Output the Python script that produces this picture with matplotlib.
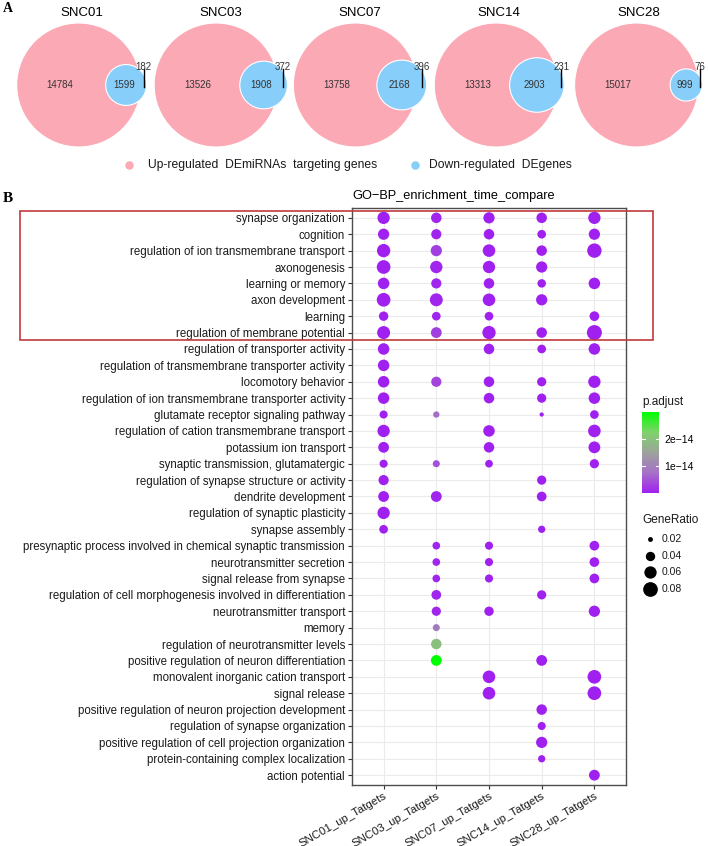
import numpy as np
import matplotlib
matplotlib.use("Agg")
import matplotlib.pyplot as plt
import matplotlib.cm as cm
from matplotlib.colors import LinearSegmentedColormap, Normalize
from matplotlib.patches import Circle, Rectangle

plt.rcParams["font.family"] = ["Liberation Sans", "DejaVu Sans"]

# ---- panel A: venn counts ----
venn_names = ["SNC01", "SNC03", "SNC07", "SNC14", "SNC28"]
up_only = [14784, 13526, 13758, 13313, 15017]
both = [1599, 1908, 2168, 2903, 999]
down_only = [182, 372, 396, 231, 76]

# ---- panel B: GO-BP dot plot ----
groups = ["SNC01_up_Tatgets", "SNC03_up_Tatgets", "SNC07_up_Tatgets",
          "SNC14_up_Tatgets", "SNC28_up_Tatgets"]

terms = [
    "synapse organization",
    "cognition",
    "regulation of ion transmembrane transport",
    "axonogenesis",
    "learning or memory",
    "axon development",
    "learning",
    "regulation of membrane potential",
    "regulation of transporter activity",
    "regulation of transmembrane transporter activity",
    "locomotory behavior",
    "regulation of ion transmembrane transporter activity",
    "glutamate receptor signaling pathway",
    "regulation of cation transmembrane transport",
    "potassium ion transport",
    "synaptic transmission, glutamatergic",
    "regulation of synapse structure or activity",
    "dendrite development",
    "regulation of synaptic plasticity",
    "synapse assembly",
    "presynaptic process involved in chemical synaptic transmission",
    "neurotransmitter secretion",
    "signal release from synapse",
    "regulation of cell morphogenesis involved in differentiation",
    "neurotransmitter transport",
    "memory",
    "regulation of neurotransmitter levels",
    "positive regulation of neuron differentiation",
    "monovalent inorganic cation transport",
    "signal release",
    "positive regulation of neuron projection development",
    "regulation of synapse organization",
    "positive regulation of cell projection organization",
    "protein-containing complex localization",
    "action potential",
]

# GeneRatio per term, columns follow `groups` (None = term not enriched)
gene_ratio = [
    [0.060, 0.047, 0.052, 0.047, 0.060],
    [0.052, 0.045, 0.047, 0.036, 0.052],
    [0.068, 0.052, 0.062, 0.047, 0.077],
    [0.071, 0.060, 0.060, 0.052, None],
    [0.054, 0.045, 0.047, 0.035, 0.054],
    [0.071, 0.065, 0.062, 0.052, None],
    [0.040, 0.036, 0.036, None, 0.042],
    [0.065, 0.049, 0.068, 0.047, 0.083],
    [0.054, None, 0.047, 0.036, 0.054],
    [0.054, None, None, None, None],
    [0.054, 0.045, 0.047, 0.039, 0.060],
    [0.054, None, 0.047, 0.039, 0.054],
    [0.033, 0.025, None, 0.018, 0.036],
    [0.060, None, 0.054, None, 0.062],
    [0.049, None, 0.047, None, 0.056],
    [0.033, 0.028, 0.031, None, 0.039],
    [0.045, None, None, 0.039, None],
    [0.049, 0.049, None, 0.042, None],
    [0.060, None, None, None, None],
    [0.036, None, None, 0.029, None],
    [None, 0.031, 0.033, None, 0.042],
    [None, 0.031, 0.033, None, 0.042],
    [None, 0.031, 0.033, None, 0.042],
    [None, 0.042, None, 0.039, None],
    [None, 0.039, 0.040, None, 0.052],
    [None, 0.028, None, None, None],
    [None, 0.047, None, None, None],
    [None, 0.049, None, 0.049, None],
    [None, None, 0.062, None, 0.071],
    [None, None, 0.062, None, 0.071],
    [None, None, None, 0.047, None],
    [None, None, None, 0.033, None],
    [None, None, None, 0.052, None],
    [None, None, None, 0.029, None],
    [None, None, None, None, 0.049],
]

# p.adjust in units of 1e-14, same layout as gene_ratio
p_adjust = [
    [0.001, 0.05, 0.001, 0.001, 0.001],
    [0.001, 0.05, 0.001, 0.001, 0.001],
    [0.001, 0.30, 0.001, 0.001, 0.001],
    [0.001, 0.05, 0.001, 0.001, None],
    [0.001, 0.05, 0.001, 0.001, 0.001],
    [0.001, 0.05, 0.001, 0.001, None],
    [0.001, 0.05, 0.001, None, 0.001],
    [0.001, 0.30, 0.001, 0.001, 0.001],
    [0.001, None, 0.001, 0.001, 0.001],
    [0.001, None, None, None, None],
    [0.001, 0.35, 0.001, 0.001, 0.001],
    [0.001, None, 0.001, 0.001, 0.001],
    [0.001, 0.75, None, 0.001, 0.001],
    [0.001, None, 0.001, None, 0.001],
    [0.001, None, 0.001, None, 0.001],
    [0.001, 0.45, 0.001, None, 0.001],
    [0.001, None, None, 0.001, None],
    [0.001, 0.05, None, 0.001, None],
    [0.001, None, None, None, None],
    [0.001, None, None, 0.001, None],
    [None, 0.05, 0.001, None, 0.001],
    [None, 0.05, 0.001, None, 0.001],
    [None, 0.05, 0.001, None, 0.001],
    [None, 0.05, None, 0.001, None],
    [None, 0.05, 0.001, None, 0.001],
    [None, 0.90, None, None, None],
    [None, 1.95, None, None, None],
    [None, 3.00, None, 0.001, None],
    [None, None, 0.001, None, 0.001],
    [None, None, 0.001, None, 0.001],
    [None, None, None, 0.001, None],
    [None, None, None, 0.001, None],
    [None, None, None, 0.001, None],
    [None, None, None, 0.001, None],
    [None, None, None, None, 0.001],
]

size_breaks = [0.02, 0.04, 0.06, 0.08]
pad_ticks = [1e-14, 2e-14]

pink = "#FCA9B6"
blue = "#87CEFA"

W, H = 708, 846
fig = plt.figure(figsize=(W / 100, H / 100), dpi=100)


def fx(px):
    return px / W


def fy(py):
    return 1 - py / H


def lens_area(R, r, d):
    if d >= R + r:
        return 0.0
    if d <= abs(R - r):
        return np.pi * min(R, r) ** 2
    a1 = r * r * np.arccos((d * d + r * r - R * R) / (2 * d * r))
    a2 = R * R * np.arccos((d * d + R * R - r * r) / (2 * d * R))
    a3 = 0.5 * np.sqrt((-d + r + R) * (d + r - R) * (d - r + R) * (d + r + R))
    return a1 + a2 - a3


def center_dist(R, r, target):
    lo, hi = abs(R - r), R + r
    for _ in range(60):
        mid = (lo + hi) / 2
        if lens_area(R, r, mid) > target:
            lo = mid
        else:
            hi = mid
    return (lo + hi) / 2


# Panel A - area proportional venns
panel_w = 139.2
for i in range(5):
    R = np.sqrt((up_only[i] + both[i]) / np.pi)
    r = np.sqrt((down_only[i] + both[i]) / np.pi)
    d = center_dist(R, r, both[i])
    k = 62 / R  # px per unit
    cx = (-R + max(R, d + r)) / 2

    ax = fig.add_axes([fx(12 + panel_w * i), fy(147), panel_w / W, 124 / H])
    ax.add_patch(Circle((0, 0), R, fc=pink, ec="white", lw=0.8, clip_on=False))
    ax.add_patch(Circle((d, 0), r, fc=blue, ec="white", lw=0.8, clip_on=False))
    ax.text(-0.3 * R, 0, str(up_only[i]), ha="center", va="center", fontsize=7, color="#333333")
    ax.text(d - 0.1 * r, 0, str(both[i]), ha="center", va="center", fontsize=7, color="#333333")
    xl = (R + d + r) / 2
    ax.plot([xl, xl], [-0.03 * R, 0.26 * R], color="black", lw=1, clip_on=False)
    ax.text(xl, 0.29 * R, str(down_only[i]), ha="center", va="center", fontsize=7,
            color="#333333", clip_on=False)
    ax.text(0.5, 1 + 10 / 124, venn_names[i], transform=ax.transAxes, ha="center",
            va="center", fontsize=9.5)
    ax.set_xlim(cx - panel_w / 2 / k, cx + panel_w / 2 / k)
    ax.set_ylim(-R, R)
    ax.axis("off")

# Panel B - dot plot
cmap = LinearSegmentedColormap.from_list(
    "pg", ["#A020F0", "#A670C7", "#9DA39C", "#7FD26B", "#00FF00"])
all_p = [p * 1e-14 for row in p_adjust for p in row if p is not None]
norm = Normalize(vmin=min(all_p), vmax=max(all_p))


def dot_size(v):
    d2 = max(3200 * v - 40, 3)
    return 0.5184 * d2


xs, ys, ss, cs = [], [], [], []
for ri in range(len(terms)):
    for ci in range(len(groups)):
        g = gene_ratio[ri][ci]
        if g is None:
            continue
        xs.append(ci + 1)
        ys.append(ri + 1)
        ss.append(dot_size(g))
        cs.append(p_adjust[ri][ci] * 1e-14)

ax = fig.add_axes([fx(352), fy(785), 274 / W, 577 / H])
ax.scatter(xs, ys, s=ss, c=cs, cmap=cmap, norm=norm, linewidths=0, zorder=3)
ax.set_xticks(range(1, 6))
ax.set_xticklabels(groups, rotation=30, ha="right", va="top", rotation_mode="anchor",
                   fontsize=8.2, color="#1a1a1a")
ax.set_yticks(range(1, len(terms) + 1))
ax.set_yticklabels(terms, fontsize=8.3, color="#1a1a1a")
ax.set_xlim(0.4, 5.6)
ax.set_ylim(len(terms) + 0.6, 0.4)
ax.grid(color="#EBEBEB", lw=0.8)
ax.set_axisbelow(True)
for sp in ax.spines.values():
    sp.set_color("#4d4d4d")
    sp.set_linewidth(1.0)
ax.tick_params(length=3, width=0.8, color="#333333", pad=2)
ax.tick_params(axis="x", pad=1)
ax.text(0, 1 + 12 / 577, "GO\u2212BP_enrichment_time_compare", transform=ax.transAxes,
        ha="left", va="center", fontsize=9.2)

# colour bar
cax = fig.add_axes([fx(642), fy(493), 17 / W, 81 / H])
sm = cm.ScalarMappable(norm=norm, cmap=cmap)
cb = fig.colorbar(sm, cax=cax)
cb.outline.set_visible(False)
cb.set_ticks(pad_ticks)
cb.set_ticklabels(["1e\u221214", "2e\u221214"])
cax.tick_params(length=0, labelsize=7.5, pad=4)
for v in pad_ticks:
    cax.axhline(v, 0, 0.2, color="white", lw=0.8)
    cax.axhline(v, 0.8, 1, color="white", lw=0.8)

# overlay for legends, labels and the red box
ov = fig.add_axes([0, 0, 1, 1])
ov.add_patch(Rectangle((20, 211), 633, 129, fill=False, ec="#C0393B", lw=1.2))
ov.text(7.5, 8, "A", family="Liberation Serif", weight="bold", fontsize=10,
        ha="center", va="center")
ov.text(8, 199, "B", family="Liberation Serif", weight="bold", fontsize=11,
        ha="center", va="center")

ov.scatter([129], [165], s=(0.72 * 8.5) ** 2, c=pink, linewidths=0)
ov.text(148, 165, "Up-regulated  DEmiRNAs  targeting genes", va="center", fontsize=8.7,
        color="#1a1a1a")
ov.scatter([415], [165], s=(0.72 * 8.5) ** 2, c=blue, linewidths=0)
ov.text(429, 165, "Down-regulated  DEgenes", va="center", fontsize=8.7, color="#1a1a1a")

ov.text(642, 402, "p.adjust", va="center", fontsize=8.5, color="#1a1a1a")
ov.text(642, 520, "GeneRatio", va="center", fontsize=8.5, color="#1a1a1a")
for v, y in zip(size_breaks, [539, 556, 572, 589]):
    ov.scatter([650], [y], s=dot_size(v), c="black", linewidths=0)
    ov.text(662, y, f"{v:.2f}", va="center", fontsize=7.5, color="#1a1a1a")

ov.set_xlim(0, W)
ov.set_ylim(H, 0)
ov.axis("off")

fig.savefig("out.png", dpi=100)
